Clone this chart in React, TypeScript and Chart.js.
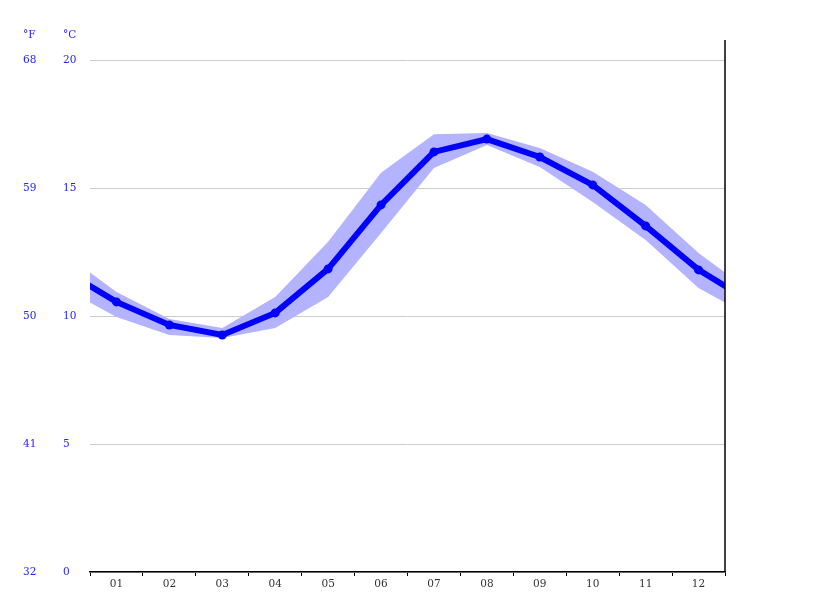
import { useEffect, useRef } from 'react';
import { Chart, registerables } from 'chart.js';

Chart.register(...registerables);

// month labels and monthly water temperatures in °C
const months = ['01', '02', '03', '04', '05', '06', '07', '08', '09', '10', '11', '12'];
const meanTemp = [10.55, 9.65, 9.26, 10.12, 11.84, 14.34, 16.41, 16.91, 16.21, 15.12, 13.52, 11.8];
const bandHigh = [10.94, 9.88, 9.53, 10.74, 12.9, 15.6, 17.1, 17.15, 16.56, 15.63, 14.34, 12.46];
const bandLow = [9.96, 9.26, 9.14, 9.53, 10.74, 13.24, 15.78, 16.68, 15.82, 14.45, 12.97, 11.09];

const celsiusTicks = [0, 5, 10, 15, 20];
const fahrenheitTicks = [32, 41, 50, 59, 68];

const BLUE = '#0000ff';
const LABEL_BLUE = '#2424ff';
const FONT = 'DejaVu Serif';

// year wraps round: Dec sits before Jan and Jan after Dec, cut off at the axis ends
const wrap = (vals: number[]) => [
  { x: 0, y: vals[vals.length - 1] },
  ...vals.map((v, i) => ({ x: i + 1, y: v })),
  { x: vals.length + 1, y: vals[0] },
];

const frame = {
  id: 'frame',
  afterDraw(chart: any) {
    const { ctx, chartArea, scales } = chart;
    ctx.save();
    ctx.strokeStyle = '#000';
    ctx.lineWidth = 1.5;
    ctx.beginPath();
    ctx.moveTo(chartArea.right, chartArea.top - 20);
    ctx.lineTo(chartArea.right, chartArea.bottom);
    ctx.stroke();

    ctx.fillStyle = LABEL_BLUE;
    ctx.font = `10.5px "${FONT}"`;
    ctx.textBaseline = 'middle';
    ctx.textAlign = 'left';
    ctx.fillText('°F', scales.yF.left, chartArea.top - 25);
    ctx.fillText('°C', scales.y.left, chartArea.top - 25);
    ctx.restore();
  },
};

export default function App() {
  const canvasRef = useRef<HTMLCanvasElement>(null);

  useEffect(() => {
    if (!canvasRef.current) return;
    const pointSizes = [0, ...months.map(() => 4.5), 0];

    const chart = new Chart(canvasRef.current, {
      type: 'line',
      data: {
        datasets: [
          {
            label: 'mean',
            data: wrap(meanTemp),
            borderColor: BLUE,
            backgroundColor: BLUE,
            borderWidth: 6,
            pointRadius: pointSizes,
            pointBackgroundColor: BLUE,
            pointBorderWidth: 0,
            fill: false,
            clip: 0,
            xAxisID: 'x',
            yAxisID: 'y',
          },
          {
            label: 'high',
            data: wrap(bandHigh),
            borderWidth: 0,
            pointRadius: 0,
            backgroundColor: '#b3b3ff',
            fill: '+1',
            clip: 0,
            xAxisID: 'x',
            yAxisID: 'y',
          },
          {
            label: 'low',
            data: wrap(bandLow),
            borderWidth: 0,
            pointRadius: 0,
            fill: false,
            clip: 0,
            xAxisID: 'x',
            yAxisID: 'y',
          },
        ],
      },
      options: {
        responsive: true,
        maintainAspectRatio: false,
        animation: false,
        layout: { padding: { left: 23, right: 90, top: 60, bottom: 19 } },
        plugins: {
          legend: { display: false },
          tooltip: { enabled: false },
        },
        scales: {
          x: {
            type: 'linear',
            min: 0.5,
            max: 12.5,
            display: false,
          },
          months: {
            type: 'category',
            labels: months,
            position: 'bottom',
            offset: true,
            grid: {
              offset: true,
              drawOnChartArea: false,
              color: '#000',
              tickLength: 4,
              tickWidth: 1,
            },
            border: { color: '#000', width: 1.5 },
            ticks: {
              color: '#333',
              padding: 2,
              maxRotation: 0,
              font: { family: FONT, size: 10.5 },
            },
            afterFit: (s: any) => {
              s.height = 20;
            },
          },
          y: {
            type: 'linear',
            position: 'left',
            min: 0,
            max: 20,
            weight: 0,
            afterBuildTicks: (s: any) => {
              s.ticks = celsiusTicks.map((v) => ({ value: v }));
            },
            ticks: {
              color: LABEL_BLUE,
              crossAlign: 'far',
              font: { family: FONT, size: 10.5 },
            },
            grid: { color: '#cccccc', drawTicks: false },
            border: { display: false },
            afterFit: (s: any) => {
              s.width = 27;
            },
          },
          yF: {
            type: 'linear',
            position: 'left',
            min: 32,
            max: 68,
            weight: 1,
            afterBuildTicks: (s: any) => {
              s.ticks = fahrenheitTicks.map((v) => ({ value: v }));
            },
            ticks: {
              color: LABEL_BLUE,
              crossAlign: 'far',
              font: { family: FONT, size: 10.5 },
            },
            grid: { display: false },
            border: { display: false },
            afterFit: (s: any) => {
              s.width = 40;
            },
          },
        },
      },
      plugins: [frame],
    });

    return () => chart.destroy();
  }, []);

  return (
    <div style={{ position: 'absolute', left: 0, top: 0, width: 815, height: 611, background: '#fff' }}>
      <canvas ref={canvasRef} />
    </div>
  );
}
